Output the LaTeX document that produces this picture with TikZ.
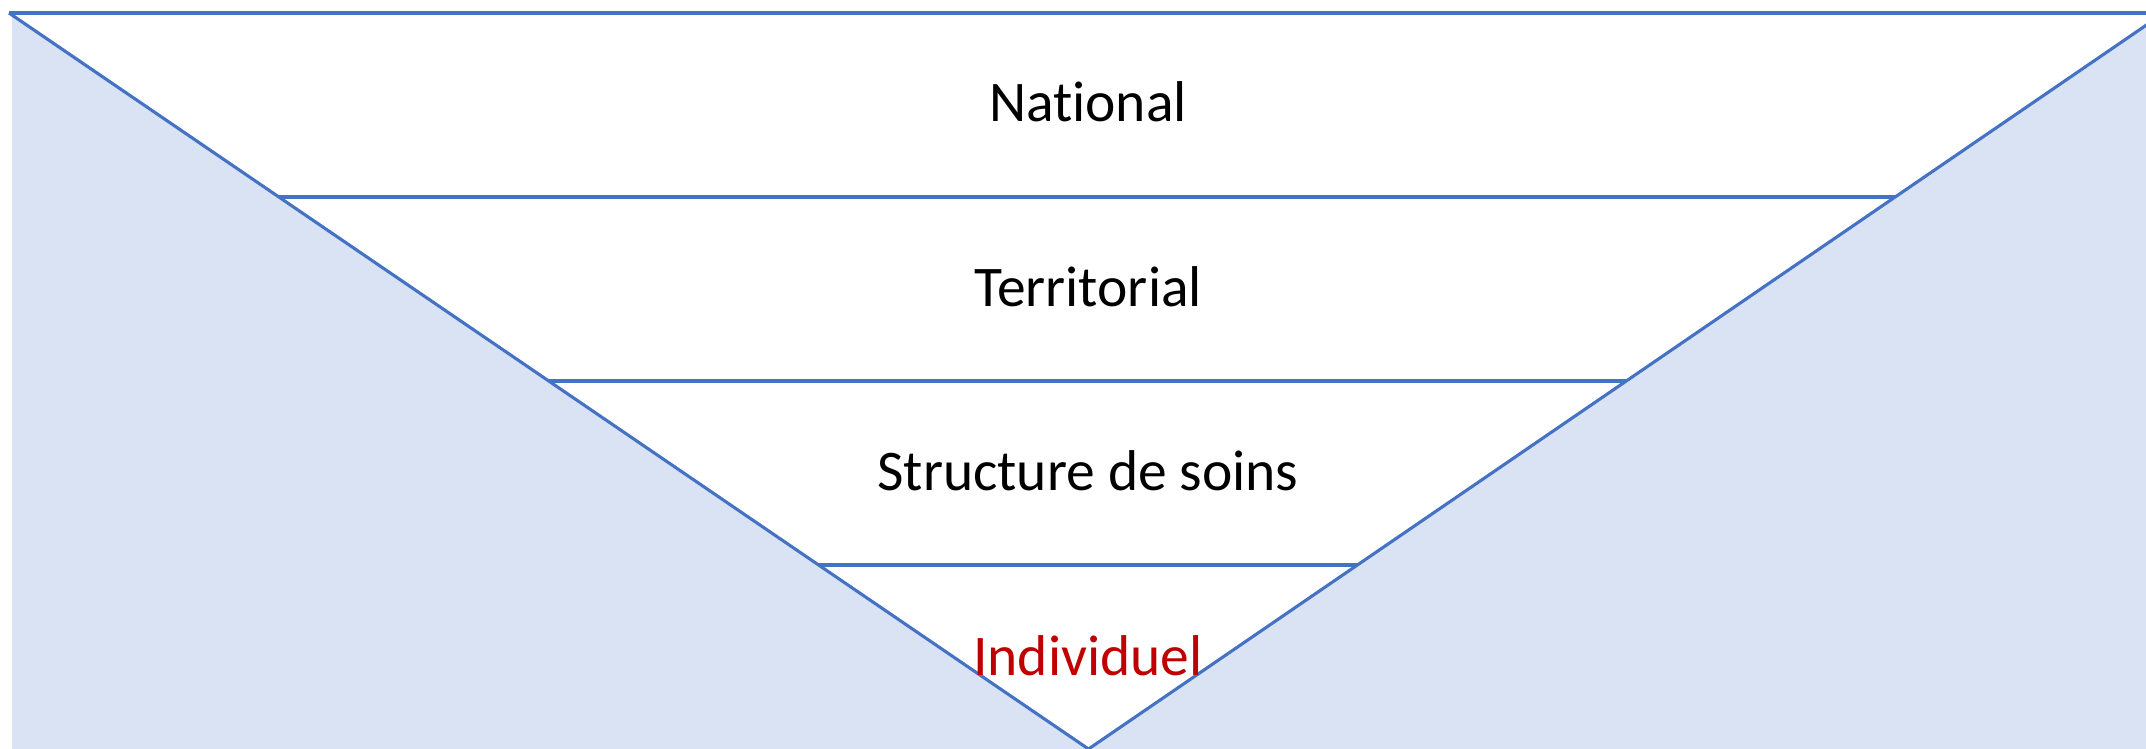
\documentclass[tikz,border=0pt]{standalone}
\usepackage{fontspec}
\setmainfont{Carlito}[Ligatures={NoCommon}]
\usetikzlibrary{calc}
\definecolor{lineblue}{HTML}{4472C4}
\definecolor{fillblue}{HTML}{DAE3F3}
\definecolor{textred}{HTML}{C00000}
\tikzset{
  edge/.style={draw=lineblue, line width=3.1pt},
  sidefill/.style={fill=fillblue, draw=none},
  level/.style={anchor=base, inner sep=0pt, font=\fontsize{57.5}{68}\selectfont}
}
\begin{document}
\begin{tikzpicture}[x=1pt, y=-1pt]
\useasboundingbox (0,0) rectangle (2146,749);
\coordinate (A) at (9,13);
\coordinate (B) at (2164,13);
\coordinate (C) at (1088.5,749);
\coordinate (R) at (2146,13);
% side fills
\begin{scope}
\clip (0,0) rectangle (2146,749);
\fill[sidefill] (12,13) -- (C) -- (12,749) -- cycle;
\fill[sidefill] (B) -- (C) -- (2146,749) -- (2146,13) -- cycle;
\end{scope}
% triangle edges
\begin{scope}
\clip (0,0) rectangle (2146,749);
\draw[edge] (A) -- (R);
\draw[edge] (A) -- (C);
\draw[edge] (B) -- (C);
\end{scope}
% level separators
\foreach \t/\n in {0.25/1,0.5/2,0.75/3}{
  \coordinate (L\n) at ($(A)!\t!(C)$);
  \coordinate (M\n) at ($(B)!\t!(C)$);
  \draw[edge] (L\n) -- (M\n);
}
% labels
\node[level] (national) at (1088,122) {National};
\node[level] (territorial) at (1088,306) {Territorial};
\node[level] (structure) at (1088,490) {Structure de soins};
\node[level, text=textred] (individuel) at (1088,675) {Individuel};
\end{tikzpicture}
\end{document}
